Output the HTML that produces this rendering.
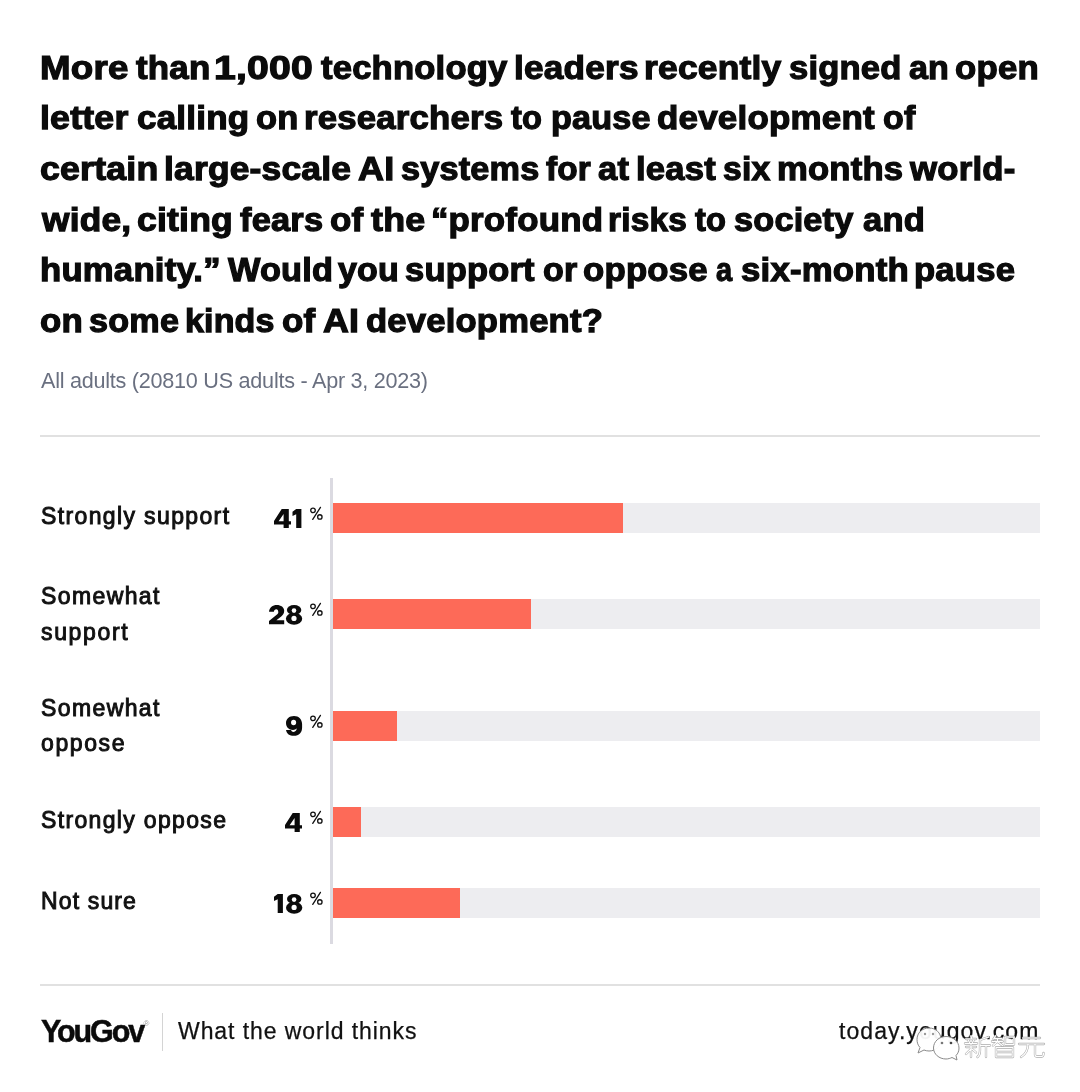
<!DOCTYPE html>
<html>
<head>
<meta charset="utf-8">
<style>
html,body{margin:0;padding:0;background:#fff;}
body{width:1080px;height:1092px;position:relative;overflow:hidden;will-change:transform;font-family:"Liberation Sans",sans-serif;color:#111;}
.a{position:absolute;white-space:nowrap;line-height:1;}
.t{font-weight:700;font-size:34px;color:#0b0b0b;left:41px;-webkit-text-stroke:1.25px #0b0b0b;transform-origin:0 0;}
.sub{font-size:21.6px;letter-spacing:-0.25px;color:#6a7080;left:41px;top:370px;}
.hr{position:absolute;left:40px;width:1000px;height:2px;background:#e1e1e1;}
.lab{font-size:23px;left:41px;color:#111;-webkit-text-stroke:0.95px #111;}
.pct{font-size:16px;left:309.5px;color:#111;-webkit-text-stroke:0.35px #111;transform:scaleX(0.86);transform-origin:0 0;}
.axis{position:absolute;left:330.2px;top:478px;width:2.7px;height:466px;background:#dbdae1;}
.track{position:absolute;left:333px;width:707px;height:30px;background:#ededf0;}
.bar{position:absolute;left:0;top:0;height:30px;background:#fd6a58;}
</style>
</head>
<body>
<span class="a t" style="left:40.00px;top:50px;letter-spacing:0.20px;transform:scaleX(1.0795)">More</span>
<span class="a t" style="left:135.50px;top:50px;letter-spacing:0.20px;transform:scaleX(1.0255)">than</span>
<span class="a t" style="left:214.00px;top:50px;letter-spacing:0.20px;transform:scaleX(1.1509)">1,000</span>
<span class="a t" style="left:320.80px;top:50px;letter-spacing:0.20px;transform:scaleX(1.0172)">technology</span>
<span class="a t" style="left:514.00px;top:50px;letter-spacing:0.20px;transform:scaleX(1.0346)">leaders</span>
<span class="a t" style="left:644.00px;top:50px;letter-spacing:0.20px;transform:scaleX(1.0415)">recently</span>
<span class="a t" style="left:789.00px;top:50px;letter-spacing:0.20px;transform:scaleX(1.0167)">signed</span>
<span class="a t" style="left:909.00px;top:50px;letter-spacing:0.20px;transform:scaleX(1.0000)">an</span>
<span class="a t" style="left:955.00px;top:50px;letter-spacing:0.20px;transform:scaleX(1.0229)">open</span>
<span class="a t" style="left:40.00px;top:100px;letter-spacing:0.20px;transform:scaleX(1.0493)">letter</span>
<span class="a t" style="left:137.20px;top:100px;letter-spacing:0.20px;transform:scaleX(1.0297)">calling</span>
<span class="a t" style="left:256.00px;top:100px;letter-spacing:0.20px;transform:scaleX(1.0116)">on</span>
<span class="a t" style="left:304.00px;top:100px;letter-spacing:0.20px;transform:scaleX(1.0211)">researchers</span>
<span class="a t" style="left:510.80px;top:100px;letter-spacing:0.20px;transform:scaleX(0.9593)">to</span>
<span class="a t" style="left:550.50px;top:100px;letter-spacing:0.20px;transform:scaleX(1.0047)">pause</span>
<span class="a t" style="left:657.00px;top:100px;letter-spacing:0.20px;transform:scaleX(1.0277)">development</span>
<span class="a t" style="left:883.00px;top:100px;letter-spacing:0.20px;transform:scaleX(1.0000)">of</span>
<span class="a t" style="left:40.00px;top:151px;letter-spacing:0.20px;transform:scaleX(1.0490)">certain</span>
<span class="a t" style="left:164.00px;top:151px;letter-spacing:0.20px;transform:scaleX(1.0406)">large-scale</span>
<span class="a t" style="left:358.40px;top:151px;letter-spacing:0.20px;transform:scaleX(1.0569)">AI</span>
<span class="a t" style="left:400.80px;top:151px;letter-spacing:0.20px;transform:scaleX(1.0066)">systems</span>
<span class="a t" style="left:545.70px;top:151px;letter-spacing:0.20px;transform:scaleX(0.9800)">for</span>
<span class="a t" style="left:598.00px;top:151px;letter-spacing:0.20px;transform:scaleX(1.0159)">at</span>
<span class="a t" style="left:635.80px;top:151px;letter-spacing:0.20px;transform:scaleX(1.0177)">least</span>
<span class="a t" style="left:723.40px;top:151px;letter-spacing:0.20px;transform:scaleX(0.9902)">six</span>
<span class="a t" style="left:777.10px;top:151px;letter-spacing:0.20px;transform:scaleX(1.0186)">months</span>
<span class="a t" style="left:909.80px;top:151px;letter-spacing:0.20px;transform:scaleX(1.0219)">world-</span>
<span class="a t" style="left:42.00px;top:202px;letter-spacing:0.20px;transform:scaleX(1.0370)">wide,</span>
<span class="a t" style="left:137.20px;top:202px;letter-spacing:0.20px;transform:scaleX(1.0454)">citing</span>
<span class="a t" style="left:240.20px;top:202px;letter-spacing:0.20px;transform:scaleX(1.0112)">fears</span>
<span class="a t" style="left:330.00px;top:202px;letter-spacing:0.20px;transform:scaleX(1.0292)">of</span>
<span class="a t" style="left:371.20px;top:202px;letter-spacing:0.20px;transform:scaleX(1.0531)">the</span>
<span class="a t" style="left:430.80px;top:202px;letter-spacing:0.20px;transform:scaleX(1.0247)">“profound</span>
<span class="a t" style="left:608.40px;top:202px;letter-spacing:0.20px;transform:scaleX(0.9828)">risks</span>
<span class="a t" style="left:695.10px;top:202px;letter-spacing:0.20px;transform:scaleX(0.9598)">to</span>
<span class="a t" style="left:734.00px;top:202px;letter-spacing:0.20px;transform:scaleX(1.0077)">society</span>
<span class="a t" style="left:862.50px;top:202px;letter-spacing:0.20px;transform:scaleX(1.0152)">and</span>
<span class="a t" style="left:40.00px;top:252px;letter-spacing:0.20px;transform:scaleX(1.0208)">humanity.”</span>
<span class="a t" style="left:227.70px;top:252px;letter-spacing:0.20px;transform:scaleX(1.0088)">Would</span>
<span class="a t" style="left:338.00px;top:252px;letter-spacing:0.20px;transform:scaleX(1.0002)">you</span>
<span class="a t" style="left:405.20px;top:252px;letter-spacing:0.20px;transform:scaleX(1.0143)">support</span>
<span class="a t" style="left:542.70px;top:252px;letter-spacing:0.20px;transform:scaleX(1.0005)">or</span>
<span class="a t" style="left:583.40px;top:252px;letter-spacing:0.20px;transform:scaleX(1.0225)">oppose</span>
<span class="a t" style="left:716.00px;top:252px;letter-spacing:0.20px;transform:scaleX(0.8511)">a</span>
<span class="a t" style="left:741.00px;top:252px;letter-spacing:0.20px;transform:scaleX(1.0222)">six-month</span>
<span class="a t" style="left:914.00px;top:252px;letter-spacing:0.20px;transform:scaleX(1.0186)">pause</span>
<span class="a t" style="left:40.00px;top:303px;letter-spacing:0.20px;transform:scaleX(1.0230)">on</span>
<span class="a t" style="left:89.20px;top:303px;letter-spacing:0.20px;transform:scaleX(1.0052)">some</span>
<span class="a t" style="left:184.90px;top:303px;letter-spacing:0.20px;transform:scaleX(1.0000)">kinds</span>
<span class="a t" style="left:281.70px;top:303px;letter-spacing:0.20px;transform:scaleX(1.0292)">of</span>
<span class="a t" style="left:323.00px;top:303px;letter-spacing:0.20px;transform:scaleX(1.0532)">AI</span>
<span class="a t" style="left:366.00px;top:303px;letter-spacing:0.20px;transform:scaleX(1.0176)">development?</span>

<div class="a sub">All adults (20810 US adults - Apr 3, 2023)</div>
<div class="hr" style="top:435px"></div>

<div class="axis"></div>

<div class="a lab" style="top:505px;letter-spacing:1.37px">Strongly support</div>
<svg style="position:absolute;left:273.6px;top:508.9px;overflow:visible" width="30" height="22" fill="#0b0b0b"><path fill-rule="evenodd" d="M7.7 0H14.8V12.2H17V15.4H14.8V18.9H9.6V15.4H0V12.1Z M9.6 4.9V12.2H4.6Z"/><g transform="translate(18.5,0)"><path d="M3.7 0H8.9V18.9H3.7V5.3L0 6.9V2.8Z"/></g></svg>
<svg style="position:absolute;left:306px;top:502px" width="22" height="22" fill="none" stroke="#111" stroke-width="1.3" stroke-linecap="round"><circle cx="7" cy="8.35" r="2.3"/><circle cx="13.85" cy="14.95" r="2.2"/><path d="M14.45 5.4L6.75 17.4"/></svg>
<div class="track" style="top:503px"><div class="bar" style="width:290px"></div></div>

<div class="a lab" style="top:585px;letter-spacing:1.39px">Somewhat</div>
<div class="a lab" style="top:621px;letter-spacing:1.65px">support</div>
<svg style="position:absolute;left:269.3px;top:604.8px;overflow:visible" width="34" height="22" fill="#0b0b0b"><path d="M0 6.7C0.3 2.5 3.8 0 7.8 0C12 0 15.2 2.3 15.2 5.8C15.2 8.3 14 9.8 12.2 11.4L7.4 15.2H15.2V19.3H0V15.9L8 9.6C8.8 8.9 9.3 8.2 9.3 7.2C9.3 5.6 8.5 4.3 7.3 4.3C5.9 4.3 5 5.3 4.9 6.7Z"/><g transform="translate(16.9,0)"><ellipse cx="8.2" cy="4.95" rx="7.2" ry="4.95"/><ellipse cx="8.15" cy="13.8" rx="8.15" ry="6"/><ellipse cx="8.1" cy="5.6" rx="2.3" ry="2.3" fill="#fff"/><ellipse cx="8.1" cy="13.4" rx="2.6" ry="2.6" fill="#fff"/></g></svg>
<svg style="position:absolute;left:306px;top:598px" width="22" height="22" fill="none" stroke="#111" stroke-width="1.3" stroke-linecap="round"><circle cx="7" cy="8.35" r="2.3"/><circle cx="13.85" cy="14.95" r="2.2"/><path d="M14.45 5.4L6.75 17.4"/></svg>
<div class="track" style="top:599px"><div class="bar" style="width:198px"></div></div>

<div class="a lab" style="top:697px;letter-spacing:1.39px">Somewhat</div>
<div class="a lab" style="top:732px;letter-spacing:1.6px">oppose</div>
<svg style="position:absolute;left:286.1px;top:716.1px;overflow:visible" width="18" height="22" fill="#0b0b0b"><path d="M8 0C12.9 0 16.1 3.3 16.1 8.3V11.5C16.1 16.6 13.2 19.8 7.8 19.8C3.7 19.8 0.6 17.8 0 13.9H5C5.4 15.2 6.4 15.9 7.5 15.9C9.6 15.9 10.6 14.3 10.7 12.3C9.9 13.3 8.6 13.9 7 13.9C2.8 13.9 0 11.2 0 7C0 2.8 3.3 0 8 0Z"/><ellipse cx="7.6" cy="6.5" rx="2.55" ry="2.75" fill="#fff"/></svg>
<svg style="position:absolute;left:306px;top:710px" width="22" height="22" fill="none" stroke="#111" stroke-width="1.3" stroke-linecap="round"><circle cx="7" cy="8.35" r="2.3"/><circle cx="13.85" cy="14.95" r="2.2"/><path d="M14.45 5.4L6.75 17.4"/></svg>
<div class="track" style="top:711px"><div class="bar" style="width:64px"></div></div>

<div class="a lab" style="top:809px;letter-spacing:1.34px">Strongly oppose</div>
<svg style="position:absolute;left:285.4px;top:812.7px;overflow:visible" width="18" height="22" fill="#0b0b0b"><path fill-rule="evenodd" d="M7.7 0H14.8V12.2H17V15.4H14.8V18.9H9.6V15.4H0V12.1Z M9.6 4.9V12.2H4.6Z"/></svg>
<svg style="position:absolute;left:306px;top:806px" width="22" height="22" fill="none" stroke="#111" stroke-width="1.3" stroke-linecap="round"><circle cx="7" cy="8.35" r="2.3"/><circle cx="13.85" cy="14.95" r="2.2"/><path d="M14.45 5.4L6.75 17.4"/></svg>
<div class="track" style="top:807px"><div class="bar" style="width:28px"></div></div>

<div class="a lab" style="top:890px;letter-spacing:1.14px">Not sure</div>
<svg style="position:absolute;left:274.2px;top:893.5px;overflow:visible" width="30" height="22" fill="#0b0b0b"><path d="M3.7 0H8.9V18.9H3.7V5.3L0 6.9V2.8Z"/><g transform="translate(12,0)"><ellipse cx="8.2" cy="4.95" rx="7.2" ry="4.95"/><ellipse cx="8.15" cy="13.8" rx="8.15" ry="6"/><ellipse cx="8.1" cy="5.6" rx="2.3" ry="2.3" fill="#fff"/><ellipse cx="8.1" cy="13.4" rx="2.6" ry="2.6" fill="#fff"/></g></svg>
<svg style="position:absolute;left:306px;top:887px" width="22" height="22" fill="none" stroke="#111" stroke-width="1.3" stroke-linecap="round"><circle cx="7" cy="8.35" r="2.3"/><circle cx="13.85" cy="14.95" r="2.2"/><path d="M14.45 5.4L6.75 17.4"/></svg>
<div class="track" style="top:888px"><div class="bar" style="width:127px"></div></div>

<div class="hr" style="top:984px"></div>

<div class="a" style="left:41px;top:1016px;font-weight:700;font-size:30.5px;letter-spacing:-2.1px;color:#0b0b0b;-webkit-text-stroke:0.5px #0b0b0b">YouGov</div>
<div class="a" style="left:143.5px;top:1020px;font-size:8px;color:#999">&reg;</div>
<div style="position:absolute;left:162px;top:1013px;width:1px;height:38px;background:#d4d4d4"></div>
<div class="a" style="left:178px;top:1020px;font-size:23px;letter-spacing:0.93px;color:#111;-webkit-text-stroke:0.25px #111">What the world thinks</div>
<div class="a" style="left:839px;top:1020px;font-size:23px;letter-spacing:1.07px;color:#111;-webkit-text-stroke:0.25px #111">today.yougov.com</div>
<svg style="position:absolute;left:905px;top:1015px" width="150" height="55" viewBox="0 0 150 55">
<defs>
<g id="wm" fill="none" stroke-linecap="round" stroke-linejoin="round">
<g transform="translate(60,21)">
<path d="M6 0 L6.5 2 M1 3 L11 3 M3.5 4.5 L4.5 6.5 M8.5 4.5 L7.5 6.5 M0 7.5 L12 7.5 M1 11 L11 11 M6 7.5 L6 21 M6 13 L1 18 M7 13 L11 16.5 M23.5 1 L15 4 M15 4 L15 14 Q15 19 12.5 21 M15 9.5 L25 9.5 M21 9.5 L21 21"/>
</g>
<g transform="translate(87,21)">
<path d="M3.5 0 L1.5 3 M2 2.5 L9.5 2.5 M0 5.5 L10.5 5.5 M5.5 2.5 L5.5 5.5 L1 9.5 M5.5 5.5 L10.5 9.5 M13 1 L22 1 L22 8.5 L13 8.5 Z M4 11.5 L21 11.5 L21 21 L4 21 Z M4 16 L21 16"/>
</g>
<g transform="translate(114,21)">
<path d="M4 2 L21 2 M0 8 L25 8 M9 8 Q9 17 2 21 M16 8 L16 18.5 Q16 20.5 18 20.5 L23 20.5 Q24.5 20.5 24.5 17"/>
</g>
</g>
</defs>
<g fill="rgba(255,255,255,0.95)" stroke="#8a8a8a" stroke-width="1">
<path d="M24 13 C31 13 36 18 36 24.5 C36 31 31 36 24 36 C22 36 20.5 35.6 19 35 L13 38 L15 32.5 C13 30.5 12 27.5 12 24.5 C12 18 17 13 24 13 Z"/>
<path d="M41 21.5 C48 21.5 54 26.5 54 33 C54 36 53 38.5 51 40.5 L52 45 L47 42.5 C45.3 43.3 43.2 44 41 44 C34 44 28.5 39 28.5 33 C28.5 26.5 34 21.5 41 21.5 Z"/>
</g>
<circle cx="20" cy="19" r="1.2" fill="#999"/><circle cx="28" cy="19" r="1.2" fill="#999"/>
<circle cx="37" cy="28" r="1.3" fill="#777"/><circle cx="46" cy="28" r="1.3" fill="#444"/>
<use href="#wm" stroke="#ababab" stroke-width="2.3"/>
<use href="#wm" stroke="#fff" stroke-width="1.2"/>
</svg>
</body>
</html>
